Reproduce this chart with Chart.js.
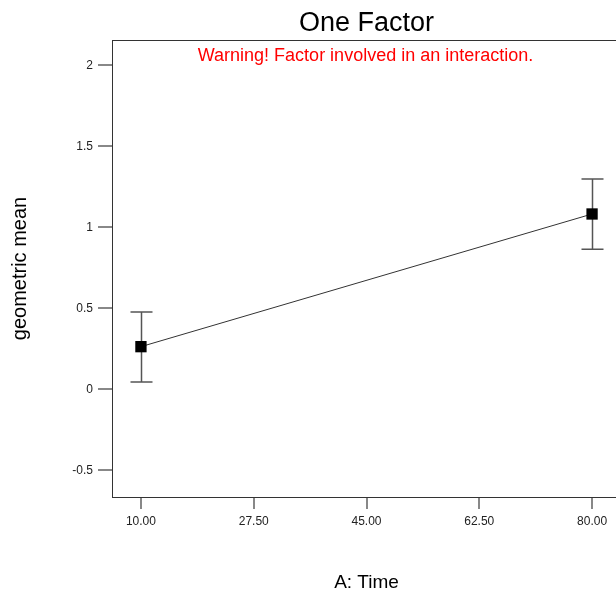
<!DOCTYPE html>
<html>
<head>
<meta charset="utf-8">
<script src="https://cdn.jsdelivr.net/npm/chart.js@4/dist/chart.umd.min.js"></script>
<style>
  html, body { margin: 0; padding: 0; background: #fff; overflow: hidden; }
  #wrap { width: 616px; height: 594px; overflow: hidden; }
</style>
</head>
<body>
<div id="wrap"><canvas id="chart" width="630" height="594"></canvas></div>
<script>
// Data
const times = [10, 80];
const means = [0.263, 1.082];
const lowerCI = [0.045, 0.864];
const upperCI = [0.477, 1.298];

const xTicks = [10, 27.5, 45, 62.5, 80];
const yTicks = [-0.5, 0, 0.5, 1, 1.5, 2];

const FONT = 'Arial, "Liberation Sans", sans-serif';

// error bars drawn from the CI arrays through the chart's scales
const errorBars = {
  id: 'errorBars',
  beforeDatasetsDraw(chart) {
    const { ctx, scales: { x, y } } = chart;
    ctx.save();
    ctx.strokeStyle = '#555';
    ctx.lineWidth = 1.5;
    times.forEach((t, i) => {
      const px = Math.round(x.getPixelForValue(t)) + 0.5;
      const top = y.getPixelForValue(upperCI[i]);
      const bot = y.getPixelForValue(lowerCI[i]);
      ctx.beginPath();
      ctx.moveTo(px, top);
      ctx.lineTo(px, bot);
      ctx.moveTo(px - 11, top);
      ctx.lineTo(px + 11, top);
      ctx.moveTo(px - 11, bot);
      ctx.lineTo(px + 11, bot);
      ctx.stroke();
    });
    ctx.restore();
  }
};

// plot frame + warning note
const frame = {
  id: 'frame',
  afterDraw(chart) {
    const { ctx, chartArea: a } = chart;
    ctx.save();
    ctx.strokeStyle = '#333';
    ctx.lineWidth = 1;
    ctx.strokeRect(Math.round(a.left) + 0.5, Math.round(a.top) + 0.5,
      Math.round(a.right - a.left), Math.round(a.bottom - a.top));
    ctx.fillStyle = '#ff0000';
    ctx.font = '18px ' + FONT;
    ctx.textAlign = 'center';
    ctx.textBaseline = 'middle';
    ctx.fillText('Warning! Factor involved in an interaction.', (a.left + a.right) / 2 - 1, a.top + 16);
    ctx.restore();
  }
};

new Chart(document.getElementById('chart'), {
  type: 'line',
  data: {
    datasets: [{
      data: times.map((t, i) => ({ x: t, y: means[i] })),
      borderColor: '#333',
      borderWidth: 1,
      pointStyle: 'rect',
      pointRadius: 8,
      pointBackgroundColor: '#000',
      pointBorderColor: '#000',
      pointBorderWidth: 0,
      tension: 0,
    }],
  },
  options: {
    responsive: false,
    animation: false,
    layout: { padding: { left: 0, right: 9, top: 0, bottom: 0 } },
    plugins: {
      legend: { display: false },
      tooltip: { enabled: false },
      title: {
        display: true,
        text: 'One Factor',
        fullSize: false,
        color: '#000',
        font: { family: FONT, size: 27, weight: 'normal' },
        padding: { top: 7, bottom: 0.6 },
      },
    },
    scales: {
      x: {
        type: 'linear',
        min: 5.51,
        max: 84.49,
        afterBuildTicks: (s) => { s.ticks = xTicks.map(v => ({ value: v })); },
        afterFit: (s) => { s.height = 97; },
        border: { display: false },
        grid: { drawOnChartArea: false, drawTicks: true, tickLength: 12, color: '#888', lineWidth: 2 },
        ticks: {
          color: '#222',
          font: { family: FONT, size: 12 },
          padding: 5,
          maxRotation: 0,
          callback: (v) => Number(v).toFixed(2),
        },
        title: {
          display: true,
          text: 'A: Time',
          color: '#000',
          font: { family: FONT, size: 19 },
          padding: { top: 0, bottom: 0 },
        },
      },
      y: {
        min: -0.665,
        max: 2.156,
        afterBuildTicks: (s) => { s.ticks = yTicks.map(v => ({ value: v })); },
        afterFit: (s) => { s.width = 112; },
        border: { display: false },
        grid: { drawOnChartArea: false, drawTicks: true, tickLength: 14, color: '#888', lineWidth: 2 },
        ticks: {
          color: '#222',
          font: { family: FONT, size: 12 },
          padding: 5,
          callback: (v) => String(v),
        },
        title: {
          display: true,
          text: 'geometric mean',
          color: '#000',
          font: { family: FONT, size: 20 },
          padding: { top: 8, bottom: 0 },
        },
      },
    },
  },
  plugins: [errorBars, frame],
});
</script>
</body>
</html>
